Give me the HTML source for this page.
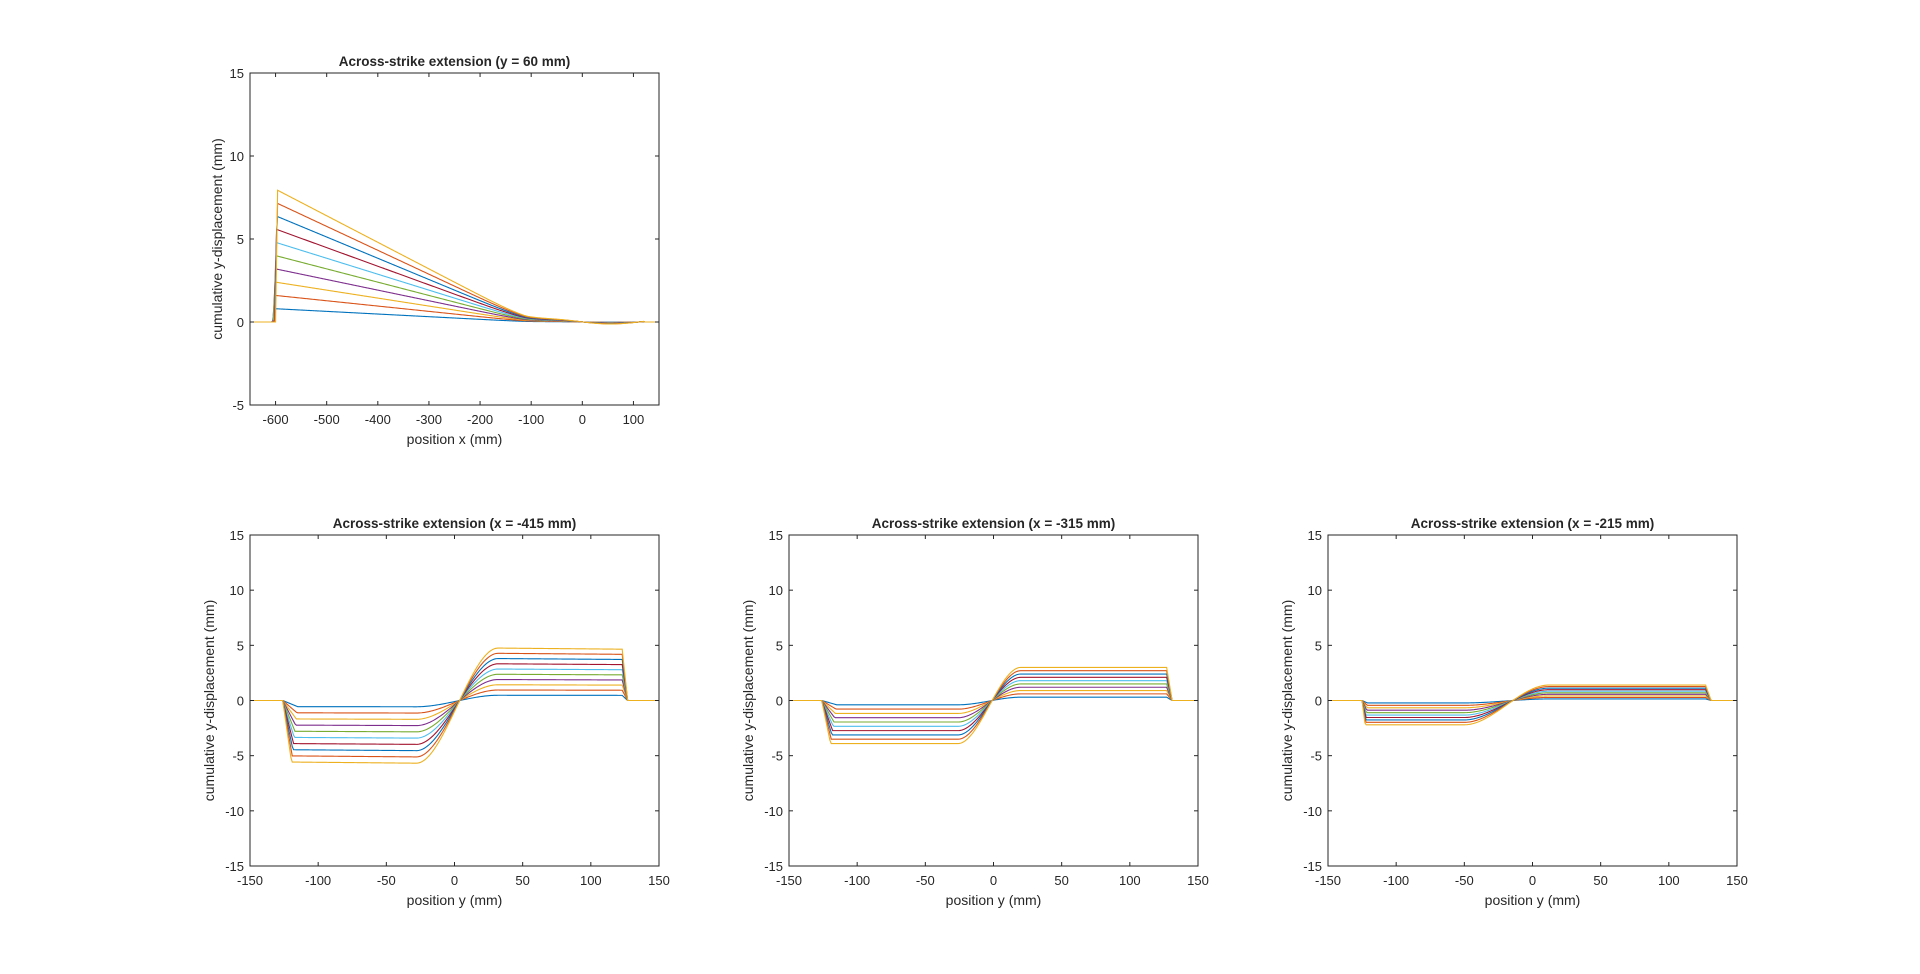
<!DOCTYPE html>
<html><head><meta charset="utf-8"><style>
html,body{margin:0;padding:0;background:#fff;}
svg{display:block;}
text{font-family:"Liberation Sans",Arial,sans-serif;fill:#262626;}
</style></head><body>
<svg id="s" width="1920" height="974" xmlns="http://www.w3.org/2000/svg"></svg>
<script>
const S=document.getElementById('s');
const C=['#0072BD','#D95319','#EDB120','#7E2F8E','#77AC30','#4DBEEE','#A2142F','#0072BD','#D95319','#EDB120'];
let out='';
function axes(o){
  const {L,T,R,B,x0,x1,y0,y1,xt,yt,title,xl}=o;
  const X=v=>L+(v-x0)/(x1-x0)*(R-L), Y=v=>B-(v-y0)/(y1-y0)*(B-T);
  for(let k=1;k<=10;k++){
    let d='';
    for(let v=x0;v<=x1+1e-9;v+=o.step){
      const f=o.f(v,k);
      d+=(d?'L':'M')+X(v).toFixed(2)+' '+Y(f).toFixed(2);
    }
    out+=`<path d="${d}" fill="none" stroke="${C[k-1]}" stroke-width="1.1"/>`;
  }
  out+=`<rect x="${L}" y="${T}" width="${R-L}" height="${B-T}" fill="none" stroke="#262626" stroke-width="1"/>`;
  xt.forEach(v=>{const x=X(v);
    out+=`<line x1="${x}" y1="${B}" x2="${x}" y2="${B-4}" stroke="#262626"/><line x1="${x}" y1="${T}" x2="${x}" y2="${T+4}" stroke="#262626"/>`;
    out+=`<text x="${x}" y="${B+19}" font-size="13" text-anchor="middle">${v}</text>`;});
  yt.forEach(v=>{const y=Y(v);
    out+=`<line x1="${L}" y1="${y}" x2="${L+4}" y2="${y}" stroke="#262626"/><line x1="${R}" y1="${y}" x2="${R-4}" y2="${y}" stroke="#262626"/>`;
    out+=`<text x="${L-6}" y="${y+5}" font-size="13" text-anchor="end">${v}</text>`;});
  out+=`<text x="${(L+R)/2}" y="${T-7}" font-size="13.5" font-weight="bold" text-anchor="middle" fill="#000">${title}</text>`;
  out+=`<text x="${(L+R)/2}" y="${B+39}" font-size="14" text-anchor="middle">${xl}</text>`;
  out+=`<text transform="translate(${o.yl} ${(T+B)/2}) rotate(-90)" font-size="14" text-anchor="middle">cumulative y-displacement (mm)</text>`;
}
const ss=t=>t<=0?0:t>=1?1:t*t*(3-2*t);
axes({L:250,T:73,R:659,B:405,x0:-650,x1:150,y0:-5,y1:15,step:2,
 xt:[-600,-500,-400,-300,-200,-100,0,100],yt:[-5,0,5,10,15],
 title:'Across-strike extension (y = 60 mm)',xl:'position x (mm)',yl:222,
 f:(x,k)=>{const A=0.8*k;
   const xs=-607+k*0.7;
   if(x<xs)return 0;
   if(x<xs+4)return A*(x-xs)/4;
   if(x>120)return 0;
   const u=1-(x+600)/500;
   const w=0.05;
   const sp=w*Math.log(1+Math.exp(u/w));
   let v=A*sp;
   const f=ss((x+130)/40);
   v+=f*0.012*k*Math.sin((x+110)/35);
   return v;
 }});
function bottom(L,R,title,p){
 axes({L:L,T:535,R:R,B:866,x0:-150,x1:150,y0:-15,y1:15,step:1,
  xt:[-150,-100,-50,0,50,100,150],yt:[-15,-10,-5,0,5,10,15],
  title:title,xl:'position y (mm)',yl:L-36,
  f:(y,k)=>{
   const Lv=p.l*k, Rv=p.r*k;
   const a=p.a0, a1=p.a1-(k-1)*p.ad;
   if(y<a)return 0;
   if(y<a1)return Lv*(y-a)/(a1-a);
   const b0=p.b0, b1=p.b1;
   if(y>b1)return 0;
   const m=Lv*(1+0.02*(y+100)/100*(p.sl||0))+(Rv-Lv)*ss((y-p.c0)/(p.c1-p.c0));
   if(y>b0)return m*(b1-y)/(b1-b0);
   return m;
  }});
}
bottom(250,659,'Across-strike extension (x = -415 mm)',{l:-0.56,r:0.49,a0:-126,a1:-115,ad:0.5,b0:123,b1:127,c0:-28,c1:32,sl:1});
bottom(789,1198,'Across-strike extension (x = -315 mm)',{l:-0.39,r:0.3,a0:-126,a1:-115,ad:0.5,b0:127,b1:131,c0:-26,c1:20});
bottom(1328,1737,'Across-strike extension (x = -215 mm)',{l:-0.22,r:0.14,a0:-125,a1:-121,ad:0.2,b0:127,b1:131,c0:-50,c1:12});
S.innerHTML=out;
</script>
</body></html>
